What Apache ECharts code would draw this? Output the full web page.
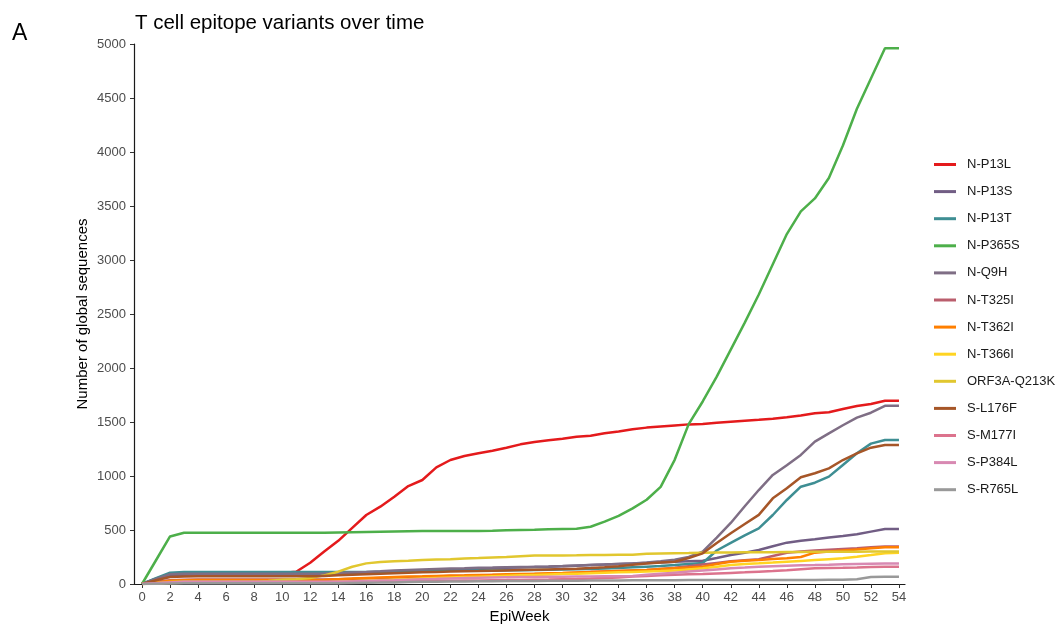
<!DOCTYPE html>
<html>
<head>
<meta charset="utf-8">
<script src="https://cdn.jsdelivr.net/npm/echarts@6/dist/echarts.min.js"></script>
<style>
  html, body { margin: 0; padding: 0; background: #fff; }
  #chart { width: 1063px; height: 628px; }
</style>
</head>
<body>
<div id="chart"></div>
<script>
// EpiWeek 0..54
const weeks = Array.from({ length: 55 }, (_, i) => i);
const weekTicks = [0, 2, 4, 6, 8, 10, 12, 14, 16, 18, 20, 22, 24, 26, 28, 30, 32, 34, 36, 38, 40, 42, 44, 46, 48, 50, 52, 54];

const variantNames = ['N-P13L', 'N-P13S', 'N-P13T', 'N-P365S', 'N-Q9H', 'N-T325I', 'N-T362I', 'N-T366I',
  'ORF3A-Q213K', 'S-L176F', 'S-M177I', 'S-P384L', 'S-R765L'];

// Cumulative number of global sequences per EpiWeek
const nP13L = [0, 50, 90, 95, 98, 100, 100, 100, 100, 100, 102,
  114, 197, 300, 400, 520, 639, 716, 808, 907, 963,
  1080, 1148, 1185, 1210, 1234, 1262, 1293, 1315, 1330, 1345,
  1364, 1373, 1395, 1413, 1432, 1448, 1458, 1468, 1478, 1482,
  1494, 1503, 1512, 1520, 1530, 1543, 1560, 1580, 1590, 1620,
  1648, 1667, 1697, 1697];
const nP13S = [0, 42, 80, 86, 88, 88, 88, 88, 88, 88, 88,
  88, 88, 90, 94, 98, 102, 107, 112, 116, 120,
  125, 130, 135, 140, 145, 150, 153, 157, 160, 165,
  170, 175, 180, 185, 190, 195, 200, 205, 210, 215,
  240, 268, 290, 315, 350, 383, 400, 414, 430, 444,
  460, 485, 509, 509];
const nP13T = [0, 55, 105, 110, 110, 110, 110, 110, 110, 110, 110,
  110, 110, 110, 110, 110, 112, 114, 116, 118, 120,
  121, 122, 123, 125, 126, 127, 128, 130, 132, 134,
  136, 140, 144, 148, 154, 160, 166, 175, 185, 195,
  310, 380, 450, 515, 639, 778, 901, 938, 994, 1102,
  1210, 1300, 1333, 1333];
const nP365S = [0, 220, 440, 475, 475, 475, 475, 475, 475, 475, 475,
  475, 475, 475, 478, 480, 482, 484, 486, 488, 490,
  490, 490, 490, 491, 493, 497, 500, 502, 506, 510,
  512, 530, 577, 630, 700, 780, 900, 1150, 1480, 1690,
  1920, 2170, 2420, 2680, 2960, 3240, 3450, 3570, 3760, 4060,
  4400, 4680, 4960, 4960];
const nQ9H = [0, 47, 90, 94, 95, 95, 95, 95, 95, 95, 95,
  95, 95, 97, 101, 106, 111, 117, 124, 130, 135,
  140, 143, 146, 150, 152, 155, 158, 160, 163, 167,
  172, 176, 180, 185, 190, 198, 210, 225, 250, 300,
  430, 565, 720, 870, 1010, 1100, 1195, 1318, 1395, 1470,
  1540, 1586, 1650, 1650];
const nT325I = [0, 20, 35, 40, 42, 42, 42, 42, 42, 42, 42,
  42, 42, 42, 45, 48, 52, 56, 60, 63, 66,
  70, 73, 76, 80, 83, 86, 90, 93, 96, 100,
  105, 110, 115, 120, 125, 130, 140, 150, 165, 180,
  195, 210, 220, 230, 260, 290, 300, 310, 318, 325,
  332, 340, 348, 348];
const nT362I = [0, 15, 30, 35, 38, 38, 38, 38, 38, 38, 38,
  38, 38, 40, 45, 50, 55, 60, 65, 70, 72,
  75, 78, 80, 83, 86, 90, 93, 96, 100, 103,
  107, 110, 115, 120, 125, 130, 138, 145, 152, 160,
  185, 206, 215, 222, 232, 238, 250, 290, 300, 310,
  320, 330, 340, 340];
const nT366I = [0, 5, 10, 12, 12, 12, 12, 12, 12, 12, 12,
  12, 12, 15, 20, 25, 30, 35, 40, 45, 50,
  55, 60, 64, 68, 72, 76, 80, 84, 88, 92,
  96, 100, 104, 108, 112, 116, 120, 125, 135, 145,
  160, 175, 185, 191, 198, 206, 214, 222, 230, 238,
  252, 268, 285, 290];
const orf3aQ213K = [0, 10, 18, 22, 22, 22, 22, 22, 22, 28, 40,
  45, 55, 80, 114, 160, 191, 203, 210, 215, 222,
  226, 230, 236, 240, 245, 250, 258, 265, 265, 265,
  266, 268, 268, 270, 270, 280, 282, 284, 286, 290,
  291, 292, 293, 294, 295, 296, 297, 298, 298, 299,
  299, 300, 300, 300];
const sL176F = [0, 35, 65, 70, 72, 72, 72, 72, 72, 72, 72,
  72, 72, 75, 80, 85, 90, 95, 100, 104, 108,
  112, 115, 118, 120, 123, 126, 129, 132, 135, 138,
  142, 148, 155, 165, 178, 190, 198, 206, 240, 284,
  380, 470, 555, 640, 793, 886, 988, 1025, 1071, 1148,
  1210, 1262, 1287, 1287];
const sM177I = [0, 8, 15, 18, 18, 18, 18, 18, 18, 18, 18,
  18, 18, 18, 18, 20, 22, 23, 25, 26, 28,
  29, 30, 32, 33, 35, 36, 38, 40, 42, 45,
  47, 50, 55, 60, 70, 75, 80, 85, 90, 93,
  98, 103, 108, 114, 120, 128, 137, 145, 148, 150,
  153, 158, 160, 160];
const sP384L = [0, 8, 15, 20, 20, 20, 20, 20, 20, 20, 20,
  20, 20, 20, 20, 24, 28, 32, 35, 40, 45,
  48, 52, 55, 58, 60, 62, 64, 65, 67, 68,
  69, 70, 71, 72, 75, 85, 95, 105, 115, 125,
  135, 145, 152, 160, 165, 170, 173, 175, 178, 182,
  185, 188, 190, 190];
const sR765L = [0, 3, 5, 8, 8, 8, 8, 8, 8, 8, 8,
  8, 8, 8, 8, 10, 12, 13, 15, 18, 20,
  21, 22, 23, 25, 26, 27, 28, 28, 29, 30,
  31, 32, 32, 33, 34, 35, 35, 35, 36, 37,
  37, 37, 37, 37, 37, 37, 37, 38, 39, 40,
  45, 65, 68, 68];

const yTicks = [0, 500, 1000, 1500, 2000, 2500, 3000, 3500, 4000, 4500, 5000];

const seriesValues = [nP13L, nP13S, nP13T, nP365S, nQ9H, nT325I, nT362I, nT366I,
  orf3aQ213K, sL176F, sM177I, sP384L, sR765L];

const palette = ['#E41A1C', '#715D84', '#3E8E93', '#4DAF4A', '#7F6E85', '#BA5E6D', '#FF7F00',
  '#FFD422', '#E1C72F', '#A65628', '#DC738D', '#D889B2', '#999999'];

const FONT = '"Liberation Sans", Arial, Helvetica, sans-serif';

const chart = echarts.init(document.getElementById('chart'), null, { renderer: 'canvas' });

chart.setOption({
  animation: false,
  backgroundColor: '#ffffff',
  color: palette,
  textStyle: { fontFamily: FONT },
  title: [
    { text: 'A', left: 12, top: 22, padding: 0,
      textStyle: { fontFamily: FONT, fontSize: 23, fontWeight: 'normal', color: '#000' } },
    { text: 'T cell epitope variants over time', left: 135, top: 13, padding: 0,
      textStyle: { fontFamily: FONT, fontSize: 20.5, fontWeight: 'normal', color: '#000' } }
  ],
  grid: { left: 134, right: 158, top: 44, bottom: 44, containLabel: false, outerBoundsMode: 'none' },
  legend: {
    orient: 'vertical',
    left: 929,
    top: 153,
    itemWidth: 22,
    itemHeight: 14,
    itemGap: 14.1,
    icon: 'path://M0,0 L22,0 L22,3 L0,3 Z',
    data: variantNames,
    textStyle: { fontFamily: FONT, fontSize: 13, color: '#1a1a1a', padding: [0, 0, 0, 6] }
  },
  xAxis: {
    type: 'value',
    min: -0.57,
    max: 54.43,
    name: 'EpiWeek',
    nameLocation: 'middle',
    nameGap: 25,
    nameMoveOverlap: false,
    nameTextStyle: { fontFamily: FONT, fontSize: 15, color: '#000' },
    axisLine: { show: true, onZero: false, lineStyle: { color: '#1a1a1a', width: 1.2 } },
    axisTick: { show: true, length: 4, customValues: weekTicks, lineStyle: { color: '#333' } },
    axisLabel: { customValues: weekTicks, margin: 7, fontSize: 13, color: '#4d4d4d', fontFamily: FONT },
    splitLine: { show: false }
  },
  yAxis: {
    type: 'value',
    min: 0,
    max: 5000,
    interval: 500,
    name: 'Number of global sequences',
    nameLocation: 'middle',
    nameGap: 44,
    nameMoveOverlap: false,
    nameTextStyle: { fontFamily: FONT, fontSize: 15, color: '#000' },
    axisLine: { show: true, onZero: false, lineStyle: { color: '#1a1a1a', width: 1.2 } },
    axisTick: { show: true, length: 4, lineStyle: { color: '#333' } },
    axisLabel: {
      customValues: yTicks, margin: 8, fontSize: 13, color: '#4d4d4d', fontFamily: FONT,
      formatter: (v) => String(v)
    },
    splitLine: { show: false }
  },
  series: variantNames.map((name, i) => ({
    name: name,
    type: 'line',
    data: weeks.map((w, j) => [w, seriesValues[i][j]]),
    symbol: 'none',
    lineStyle: { width: 2.5, color: palette[i] },
    itemStyle: { color: palette[i] },
    emphasis: { disabled: true }
  }))
});
</script>
</body>
</html>
